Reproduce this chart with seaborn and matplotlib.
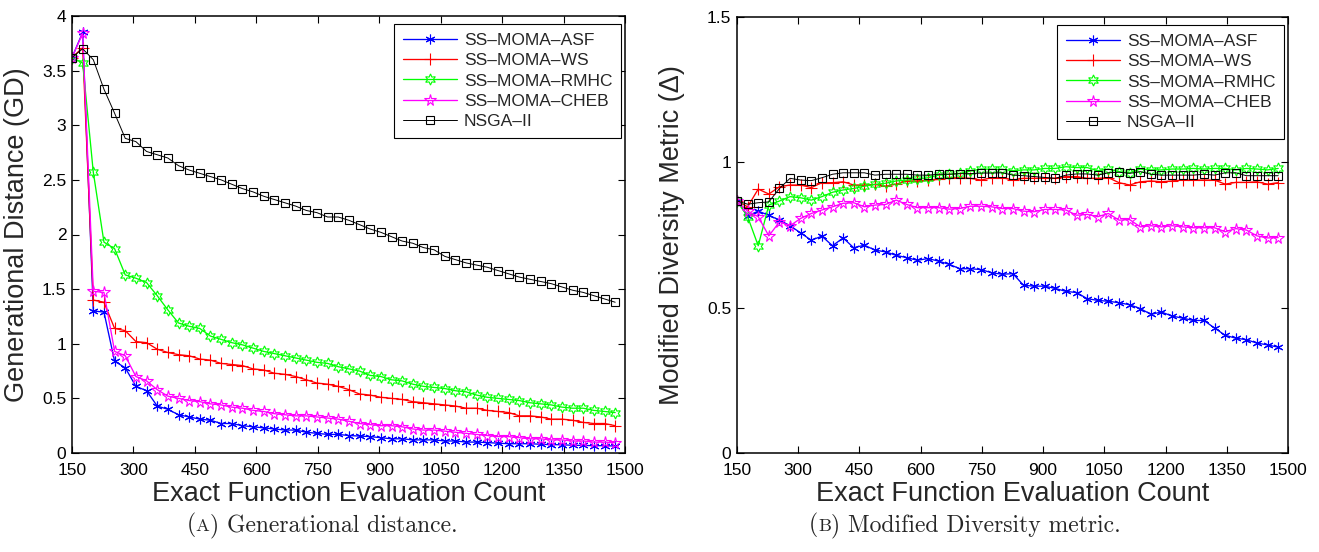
import matplotlib
matplotlib.use("Agg")
import matplotlib.pyplot as plt
import seaborn as sns

# Evaluation checkpoints (exact function evaluations)
evals = list(range(150, 1477, 26))

# Generational distance (GD)
gd_asf = [3.62, 3.85, 1.30, 1.29, 0.84, 0.78, 0.61, 0.57, 0.43, 0.40, 0.35, 0.33, 0.31,
          0.30, 0.27, 0.27, 0.25, 0.24, 0.23, 0.22, 0.21, 0.21, 0.19, 0.18, 0.17, 0.17,
          0.16, 0.155, 0.15, 0.14, 0.13, 0.13, 0.12, 0.12, 0.12, 0.11, 0.11, 0.10, 0.10,
          0.095, 0.09, 0.085, 0.085, 0.085, 0.08, 0.076, 0.076, 0.07, 0.07, 0.067, 0.067,
          0.064]
gd_ws = [3.62, 3.71, 1.40, 1.38, 1.14, 1.12, 1.02, 1.01, 0.95, 0.92, 0.90, 0.89, 0.86,
         0.85, 0.82, 0.81, 0.80, 0.77, 0.76, 0.73, 0.72, 0.70, 0.67, 0.64, 0.63, 0.61,
         0.58, 0.54, 0.53, 0.51, 0.50, 0.49, 0.47, 0.46, 0.45, 0.44, 0.43, 0.41, 0.41,
         0.39, 0.38, 0.37, 0.34, 0.34, 0.33, 0.31, 0.31, 0.30, 0.28, 0.27, 0.27, 0.25]
gd_rmhc = [3.62, 3.57, 2.57, 1.93, 1.87, 1.63, 1.60, 1.56, 1.44, 1.31, 1.19, 1.16, 1.14,
           1.07, 1.04, 1.01, 0.99, 0.96, 0.93, 0.91, 0.89, 0.87, 0.85, 0.83, 0.82, 0.79,
           0.77, 0.75, 0.71, 0.70, 0.67, 0.66, 0.63, 0.61, 0.60, 0.59, 0.57, 0.56, 0.53,
           0.51, 0.50, 0.49, 0.48, 0.46, 0.45, 0.44, 0.42, 0.41, 0.41, 0.39, 0.38, 0.37]
gd_cheb = [3.62, 3.84, 1.48, 1.47, 0.93, 0.89, 0.70, 0.66, 0.58, 0.52, 0.50, 0.48, 0.47,
           0.45, 0.44, 0.42, 0.41, 0.39, 0.38, 0.36, 0.35, 0.34, 0.34, 0.33, 0.32, 0.31,
           0.29, 0.27, 0.26, 0.25, 0.25, 0.24, 0.22, 0.21, 0.21, 0.20, 0.19, 0.18, 0.17,
           0.16, 0.15, 0.15, 0.14, 0.13, 0.13, 0.12, 0.12, 0.11, 0.11, 0.10, 0.10, 0.095]
gd_nsga = [3.62, 3.70, 3.60, 3.33, 3.11, 2.88, 2.85, 2.76, 2.73, 2.70, 2.63, 2.59, 2.56,
           2.53, 2.50, 2.46, 2.42, 2.39, 2.35, 2.32, 2.29, 2.26, 2.22, 2.20, 2.16, 2.16,
           2.13, 2.09, 2.05, 2.02, 1.98, 1.94, 1.92, 1.88, 1.86, 1.80, 1.77, 1.74, 1.72,
           1.70, 1.67, 1.64, 1.61, 1.59, 1.57, 1.55, 1.52, 1.49, 1.47, 1.44, 1.41, 1.38]

# Modified diversity metric (Delta)
dm_asf = [0.867, 0.816, 0.832, 0.818, 0.801, 0.782, 0.757, 0.732, 0.746, 0.713, 0.740,
          0.706, 0.715, 0.698, 0.692, 0.680, 0.672, 0.663, 0.669, 0.660, 0.649, 0.634,
          0.634, 0.631, 0.620, 0.615, 0.617, 0.577, 0.574, 0.574, 0.566, 0.556, 0.552,
          0.531, 0.525, 0.522, 0.517, 0.510, 0.497, 0.477, 0.485, 0.471, 0.464, 0.456,
          0.456, 0.430, 0.405, 0.395, 0.390, 0.378, 0.372, 0.364]
dm_ws = [0.867, 0.847, 0.908, 0.891, 0.916, 0.922, 0.922, 0.913, 0.930, 0.930, 0.933,
         0.922, 0.922, 0.924, 0.918, 0.925, 0.936, 0.936, 0.939, 0.941, 0.947, 0.947,
         0.945, 0.939, 0.947, 0.947, 0.939, 0.945, 0.945, 0.945, 0.945, 0.951, 0.951,
         0.945, 0.945, 0.947, 0.930, 0.922, 0.933, 0.936, 0.933, 0.936, 0.939, 0.939,
         0.939, 0.939, 0.925, 0.931, 0.931, 0.933, 0.925, 0.930]
dm_rmhc = [0.867, 0.813, 0.713, 0.853, 0.867, 0.882, 0.878, 0.870, 0.882, 0.897, 0.905,
           0.910, 0.918, 0.924, 0.928, 0.936, 0.939, 0.943, 0.947, 0.956, 0.959, 0.962,
           0.970, 0.977, 0.976, 0.976, 0.971, 0.974, 0.974, 0.979, 0.979, 0.985, 0.982,
           0.982, 0.971, 0.977, 0.968, 0.964, 0.977, 0.974, 0.974, 0.977, 0.977, 0.979,
           0.977, 0.979, 0.979, 0.974, 0.979, 0.977, 0.974, 0.979]
dm_cheb = [0.867, 0.832, 0.813, 0.747, 0.795, 0.782, 0.807, 0.824, 0.836, 0.847, 0.859,
           0.861, 0.847, 0.853, 0.855, 0.870, 0.855, 0.844, 0.844, 0.844, 0.839, 0.841,
           0.849, 0.849, 0.847, 0.841, 0.841, 0.832, 0.830, 0.838, 0.838, 0.836, 0.818,
           0.821, 0.813, 0.824, 0.801, 0.803, 0.778, 0.782, 0.778, 0.782, 0.778, 0.775,
           0.775, 0.775, 0.761, 0.772, 0.767, 0.747, 0.740, 0.741]
dm_nsga = [0.867, 0.856, 0.861, 0.864, 0.910, 0.945, 0.939, 0.937, 0.947, 0.959, 0.964,
           0.964, 0.964, 0.956, 0.959, 0.959, 0.959, 0.956, 0.956, 0.959, 0.959, 0.961,
           0.961, 0.963, 0.963, 0.964, 0.956, 0.954, 0.951, 0.948, 0.945, 0.956, 0.960,
           0.960, 0.956, 0.964, 0.966, 0.962, 0.968, 0.959, 0.956, 0.956, 0.956, 0.956,
           0.959, 0.956, 0.964, 0.964, 0.954, 0.954, 0.954, 0.954]

names = ["SS\u2013MOMA\u2013ASF", "SS\u2013MOMA\u2013WS", "SS\u2013MOMA\u2013RMHC",
         "SS\u2013MOMA\u2013CHEB", "NSGA\u2013II"]
colors = ["#0000ff", "#ff0000", "#00ff00", "#ff00ff", "#000000"]
markers = [(6, 2, 0), "+", (6, 1, 0), "*", "s"]
msizes = [7, 8, 8, 8.5, 5.5]
lwidths = [0.95, 0.95, 0.95, 0.95, 0.7]

xticks = [150, 300, 450, 600, 750, 900, 1050, 1200, 1350, 1500]
gd_ticks = [0, 0.5, 1, 1.5, 2, 2.5, 3, 3.5, 4]
dm_ticks = [0, 0.5, 1, 1.5]

sns.set_style("ticks")
plt.rcParams["font.family"] = ["Liberation Sans", "DejaVu Sans"]

W, H = 1319, 552
fig = plt.figure(figsize=(W / 100, H / 100), dpi=100)
ax1 = fig.add_axes([72 / W, 1 - 453 / H, (625 - 72) / W, (453 - 16) / H])
ax2 = fig.add_axes([737 / W, 1 - 453 / H, (1288 - 737) / W, (453 - 17) / H])


def draw(ax, series, yticks, ylim, ylabel):
    for vals, name, c, m, ms, lw in zip(series, names, colors, markers, msizes, lwidths):
        sns.lineplot(x=evals, y=vals, ax=ax, color=c, marker=m, markersize=ms,
                     markerfacecolor="none", markeredgecolor=c, markeredgewidth=0.8,
                     linewidth=lw, label=name, sort=False)
    ax.set_xlim(150, 1500)
    ax.set_ylim(*ylim)
    ax.set_xticks(xticks)
    ax.set_xticklabels([str(t) for t in xticks])
    ax.set_yticks(yticks)
    ax.set_yticklabels([f"{t:g}" for t in yticks])
    ax.tick_params(direction="in", top=True, right=True, length=5, width=0.8,
                   labelsize=12.5, pad=4, colors="black")
    ax.tick_params(axis="x", pad=7)
    for sp in ax.spines.values():
        sp.set_visible(True)
        sp.set_linewidth(1.1)
        sp.set_color("black")
    ax.set_xlabel("Exact Function Evaluation Count", fontsize=19.5)
    ax.set_ylabel(ylabel, fontsize=19.5)
    leg = ax.legend(loc="upper right", bbox_to_anchor=(1 - 4 / 553, 1 - 8 / 437),
                    borderaxespad=0, fontsize=12.5, handlelength=3.1, handletextpad=0.4,
                    borderpad=0.5, labelspacing=0.3, fancybox=False, framealpha=1,
                    edgecolor="black")
    leg.get_frame().set_linewidth(0.8)


draw(ax1, [gd_asf, gd_ws, gd_rmhc, gd_cheb, gd_nsga], gd_ticks, (0, 4),
     "Generational Distance (GD)")
draw(ax2, [dm_asf, dm_ws, dm_rmhc, dm_cheb, dm_nsga], dm_ticks, (0, 1.5),
     "Modified Diversity Metric (\u0394)")
ax1.yaxis.set_label_coords(-0.076, 0.5)
ax2.yaxis.set_label_coords(-0.094, 0.5)
ax1.xaxis.set_label_coords(0.5, -0.064)
ax2.xaxis.set_label_coords(0.5, -0.064)

# Sub-figure captions with a small-capital letter
renderer = fig.canvas.get_renderer()


def caption(xc, y, letter, rest, size=17):
    parts = [("(", size), (letter, size * 0.78), (") " + rest, size)]
    texts = [fig.text(0, y, s, fontsize=fs, family="cmr10", va="baseline",
                      transform=None) for s, fs in parts]
    widths = [t.get_window_extent(renderer).width for t in texts]
    x = xc - sum(widths) / 2
    for t, w in zip(texts, widths):
        t.set_x(x)
        x += w


caption(322, H - 531, "A", "Generational distance.")
caption(965, H - 531, "B", "Modified Diversity metric.")

fig.savefig("out.png", dpi=100)
